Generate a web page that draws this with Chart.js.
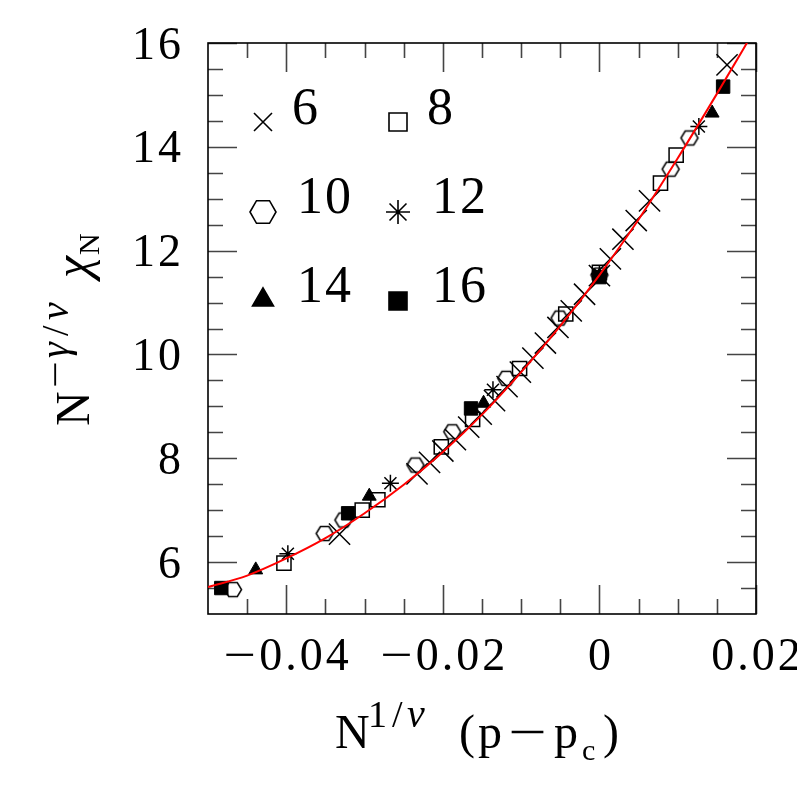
<!DOCTYPE html>
<html>
<head>
<meta charset="utf-8">
<script src="https://cdn.jsdelivr.net/npm/chart.js@4/dist/chart.umd.min.js"></script>
<style>
html,body{margin:0;padding:0;background:#fff;}
#wrap{width:797px;height:797px;}
</style>
</head>
<body>
<div id="wrap"><canvas id="c" width="797" height="797"></canvas></div>
<script>
// ---- data ----
const xs6  = [-0.0332, -0.0233, -0.0217, -0.0200, -0.0184, -0.0167, -0.0151, -0.0134, -0.0118, -0.0101, -0.0085, -0.0069, -0.0053, -0.0036, -0.0019, 0.0000, 0.0014, 0.0030, 0.0047, 0.0064, 0.0163];
const ys6  = [6.54, 7.70, 7.92, 8.14, 8.36, 8.60, 8.85, 9.11, 9.38, 9.66, 9.93, 10.22, 10.52, 10.84, 11.16, 11.52, 11.84, 12.22, 12.58, 12.96, 15.58];
const xs8  = [-0.0403, -0.0303, -0.0283, -0.0202, -0.0162, -0.0102, -0.0043, 0.0000, 0.0078, 0.0098];
const ys8  = [5.98, 7.00, 7.20, 8.22, 8.75, 9.73, 10.78, 11.58, 13.30, 13.84];
const xs10 = [-0.0468, -0.0351, -0.0327, -0.0235, -0.0188, -0.0119, -0.0051, 0.0000, 0.0091, 0.0115];
const ys10 = [5.47, 6.55, 6.81, 7.87, 8.51, 9.54, 10.70, 11.53, 13.57, 14.17];
const xs12 = [-0.0398, -0.0267, -0.0136, 0.0000, 0.0127];
const ys12 = [6.16, 7.52, 9.32, 11.55, 14.39];
const xs14 = [-0.0439, -0.0294, -0.0148, 0.0000, 0.0144];
const ys14 = [5.85, 7.27, 9.06, 11.51, 14.65];
const xs16 = [-0.0483, -0.0321, -0.0164, 0.0000, 0.0158];
const ys16 = [5.50, 6.94, 8.96, 11.49, 15.16];
const curveX = [-0.05, -0.045, -0.04, -0.035, -0.03, -0.025, -0.02, -0.015, -0.01, -0.005, 0.0, 0.005, 0.01, 0.015, 0.02];
const curveY = [5.52, 5.74, 6.07, 6.46, 6.94, 7.49, 8.12, 8.84, 9.66, 10.55, 11.53, 12.60, 13.78, 15.02, 16.30];
const seriesLabels = ['6', '8', '10', '12', '14', '16'];
const xMajorTicks = [-0.04, -0.02, 0, 0.02];
const xMinorTicks = [-0.045, -0.035, -0.03, -0.025, -0.015, -0.01, -0.005, 0.005, 0.01, 0.015];
const yMajorTicks = [6, 8, 10, 12, 14, 16];
const yMinorTicks = [5.5, 6.5, 7, 7.5, 8.5, 9, 9.5, 10.5, 11, 11.5, 12.5, 13, 13.5, 14.5, 15, 15.5];

const SERIF = '"Liberation Serif", "Times New Roman", serif';

function pts(xs, ys) { return xs.map((x, i) => ({x: x, y: ys[i]})); }

function hexCanvas(w, h, lw) {
  const c = document.createElement('canvas');
  c.width = Math.ceil(w + lw * 2 + 2); c.height = Math.ceil(h + lw * 2 + 2);
  const g = c.getContext('2d');
  const cx = c.width / 2, cy = c.height / 2;
  g.beginPath();
  g.moveTo(cx - w / 2, cy);
  g.lineTo(cx - w / 4, cy - h / 2);
  g.lineTo(cx + w / 4, cy - h / 2);
  g.lineTo(cx + w / 2, cy);
  g.lineTo(cx + w / 4, cy + h / 2);
  g.lineTo(cx - w / 4, cy + h / 2);
  g.closePath();
  g.lineWidth = lw; g.strokeStyle = '#000'; g.stroke();
  return c;
}
const hexData = hexCanvas(17, 14, 1.5);

function fmtTick(v) {
  if (v === 0) return '0';
  return (v < 0 ? '\u2212' : '') + String(Math.abs(v));
}

// draw text glyph by glyph; minus signs are stretched like the TeX minus
const MINUS_SX = 1.25;
function glyphW(ctx, ch) { return ctx.measureText(ch).width * (ch === '\u2212' ? MINUS_SX : 1); }
function spacedWidth(ctx, t, ls) {
  let w = 0; for (const ch of t) w += glyphW(ctx, ch) + ls; return w - ls;
}
function drawSpaced(ctx, t, x, y, ls) {
  for (const ch of t) {
    if (ch === '\u2212') {
      ctx.save(); ctx.translate(x, y); ctx.scale(MINUS_SX, 1); ctx.fillText(ch, 0, 0); ctx.restore();
    } else {
      ctx.fillText(ch, x, y);
    }
    x += glyphW(ctx, ch) + ls;
  }
  return x;
}

function drawMarker(ctx, kind, x, y, s) {
  ctx.save();
  ctx.lineWidth = 1.6; ctx.strokeStyle = '#000'; ctx.fillStyle = '#000';
  ctx.beginPath();
  if (kind === 'x') {
    const d = s / 2;
    ctx.moveTo(x - d, y - d); ctx.lineTo(x + d, y + d);
    ctx.moveTo(x + d, y - d); ctx.lineTo(x - d, y + d);
    ctx.stroke();
  } else if (kind === 'sq' || kind === 'fsq') {
    ctx.rect(x - s / 2, y - s / 2, s, s);
    if (kind === 'fsq') ctx.fill(); ctx.stroke();
  } else if (kind === 'hex') {
    const w = s, h = s * 0.87;
    ctx.moveTo(x - w / 2, y); ctx.lineTo(x - w / 4, y - h / 2); ctx.lineTo(x + w / 4, y - h / 2);
    ctx.lineTo(x + w / 2, y); ctx.lineTo(x + w / 4, y + h / 2); ctx.lineTo(x - w / 4, y + h / 2);
    ctx.closePath(); ctx.stroke();
  } else if (kind === 'star') {
    const r = s / 2;
    for (let k = 0; k < 4; k++) {
      const a = k * Math.PI / 4;
      ctx.moveTo(x - Math.sin(a) * r, y - Math.cos(a) * r);
      ctx.lineTo(x + Math.sin(a) * r, y + Math.cos(a) * r);
    }
    ctx.stroke();
  } else if (kind === 'tri') {
    const h = s * 0.866;
    ctx.moveTo(x, y - h * 2 / 3); ctx.lineTo(x + s / 2, y + h / 3); ctx.lineTo(x - s / 2, y + h / 3);
    ctx.closePath(); ctx.fill(); ctx.stroke();
  }
  ctx.restore();
}

const framePlugin = {
  id: 'frame',
  beforeDatasetsDraw(chart) {
    const ctx = chart.ctx, a = chart.chartArea;
    const xs = chart.scales.x, ys = chart.scales.y;
    ctx.save();
    ctx.strokeStyle = '#444'; ctx.lineWidth = 1.6;
    ctx.beginPath();
    const xt = (arr, len) => arr.forEach(v => {
      const p = Math.round(xs.getPixelForValue(v)) + 0.5;
      ctx.moveTo(p, a.bottom); ctx.lineTo(p, a.bottom - len);
      ctx.moveTo(p, a.top); ctx.lineTo(p, a.top + len);
    });
    const yt = (arr, len) => arr.forEach(v => {
      const p = Math.round(ys.getPixelForValue(v)) + 0.5;
      ctx.moveTo(a.left, p); ctx.lineTo(a.left + len, p);
      ctx.moveTo(a.right, p); ctx.lineTo(a.right - len, p);
    });
    xt(xMajorTicks, 29); xt(xMinorTicks, 15);
    yt(yMajorTicks, 29); yt(yMinorTicks, 15);
    ctx.stroke();
    ctx.strokeStyle = '#000'; ctx.lineWidth = 1.6;
    ctx.strokeRect(a.left, a.top, a.right - a.left, a.bottom - a.top);
    ctx.restore();
  },
  afterDraw(chart) {
    const ctx = chart.ctx;
    const xs = chart.scales.x, ys = chart.scales.y;
    ctx.save();
    ctx.fillStyle = '#000';
    ctx.textBaseline = 'alphabetic'; ctx.textAlign = 'left';
    // tick labels
    ctx.font = '46px ' + SERIF;
    const ls = 3;
    xMajorTicks.forEach(v => {
      const t = fmtTick(v);
      const w = spacedWidth(ctx, t, ls);
      drawSpaced(ctx, t, xs.getPixelForValue(v) - w / 2, 670, ls);
    });
    yMajorTicks.forEach(v => {
      const t = fmtTick(v);
      const w = spacedWidth(ctx, t, ls);
      drawSpaced(ctx, t, 181 - w, ys.getPixelForValue(v) + 15.5, ls);
    });
    // x title: N^{1/nu} (p-p_c)
    const XB = 748;
    ctx.font = '48px ' + SERIF;
    drawSpaced(ctx, 'N', 335, XB, 0);
    ctx.font = '38px ' + SERIF;
    drawSpaced(ctx, '1', 368, XB - 21, 0);
    drawSpaced(ctx, '/', 392, XB - 21, 0);
    ctx.font = 'italic 40px ' + SERIF;
    drawSpaced(ctx, '\u03bd', 407, XB - 21, 0);
    ctx.font = '48px ' + SERIF;
    drawSpaced(ctx, '(', 459, XB, 0);
    drawSpaced(ctx, 'p', 478, XB, 0);
    ctx.save(); ctx.translate(508, XB); ctx.scale(1.42, 1); ctx.fillText('\u2212', 0, 0); ctx.restore();
    drawSpaced(ctx, 'p', 554, XB, 0);
    ctx.font = '30px ' + SERIF;
    drawSpaced(ctx, 'c', 582, XB + 12, 0);
    ctx.font = '48px ' + SERIF;
    drawSpaced(ctx, ')', 603, XB, 0);
    // y title: N^{-gamma/nu} chi_N  (rotated)
    ctx.save();
    ctx.translate(89, 426);
    ctx.rotate(-Math.PI / 2);
    ctx.font = '48px ' + SERIF;
    drawSpaced(ctx, 'N', 0, 0, 0);
    ctx.font = '38px ' + SERIF;
    drawSpaced(ctx, '\u2212', 38, -21, 0);
    ctx.font = 'italic 40px ' + SERIF;
    drawSpaced(ctx, '\u03b3', 68, -21, 0);
    ctx.font = '38px ' + SERIF;
    drawSpaced(ctx, '/', 90, -21, 0);
    ctx.font = 'italic 40px ' + SERIF;
    drawSpaced(ctx, '\u03bd', 106, -21, 0);
    ctx.font = 'italic 50px ' + SERIF;
    const lx = drawSpaced(ctx, '\u03c7', 148, 0, 0);
    ctx.font = '30px ' + SERIF;
    drawSpaced(ctx, 'N', lx + 1, 10, 0);
    ctx.restore();
    // legend
    const leg = [
      {k: 'x',   mx: 263, my: 122, s: 18, tx: 292, ty: 124},
      {k: 'sq',  mx: 398, my: 122, s: 18, tx: 427, ty: 124},
      {k: 'hex', mx: 263, my: 212, s: 26, tx: 297, ty: 213},
      {k: 'star',mx: 398, my: 212, s: 24, tx: 432, ty: 213},
      {k: 'tri', mx: 263, my: 300, s: 21, tx: 297, ty: 302},
      {k: 'fsq', mx: 398, my: 301, s: 18, tx: 432, ty: 302}
    ];
    ctx.font = '52px ' + SERIF;
    leg.forEach((e, i) => {
      drawMarker(ctx, e.k, e.mx, e.my, e.s);
      ctx.fillStyle = '#000';
      drawSpaced(ctx, seriesLabels[i], e.tx, e.ty, 2);
    });
    ctx.restore();
  }
};

const black = '#000';
const clear = 'rgba(0,0,0,0)';

new Chart(document.getElementById('c'), {
  type: 'scatter',
  data: {
    datasets: [
      {label: 'fit', type: 'line', data: pts(curveX, curveY), borderColor: '#ff0000', borderWidth: 2,
       pointRadius: 0, fill: false, cubicInterpolationMode: 'monotone', order: 0},
      {label: seriesLabels[0], data: pts(xs6, ys6), pointStyle: 'crossRot', pointRadius: 15,
       borderColor: black, backgroundColor: clear, borderWidth: 1.5, order: 1},
      {label: seriesLabels[1], data: pts(xs8, ys8), pointStyle: 'rect', pointRadius: 10,
       borderColor: black, backgroundColor: clear, borderWidth: 1.5, order: 1},
      {label: seriesLabels[2], data: pts(xs10, ys10), pointStyle: hexData, pointRadius: 8,
       borderColor: black, backgroundColor: clear, borderWidth: 1.5, order: 1},
      {label: seriesLabels[3], data: pts(xs12, ys12), pointStyle: 'star', pointRadius: 8.5,
       borderColor: black, backgroundColor: clear, borderWidth: 1.5, order: 1},
      {label: seriesLabels[4], data: pts(xs14, ys14), pointStyle: 'triangle', pointRadius: 8,
       borderColor: black, backgroundColor: black, borderWidth: 1, order: 1},
      {label: seriesLabels[5], data: pts(xs16, ys16), pointStyle: 'rect', pointRadius: 9.5,
       borderColor: black, backgroundColor: black, borderWidth: 1, order: 1}
    ]
  },
  options: {
    responsive: false,
    animation: false,
    events: [],
    layout: {padding: {top: 43, right: 41, left: 0, bottom: 0}},
    plugins: {legend: {display: false}, tooltip: {enabled: false}, title: {display: false}},
    scales: {
      x: {
        type: 'linear', min: -0.05, max: 0.02,
        grid: {display: false, drawTicks: false}, border: {display: false},
        ticks: {display: false},
        title: {display: false},
        afterBuildTicks(s) { s.ticks = xMajorTicks.map(v => ({value: v})); },
        afterFit(s) { s.height = 183; }
      },
      y: {
        type: 'linear', min: 5, max: 16,
        grid: {display: false, drawTicks: false}, border: {display: false},
        ticks: {display: false},
        title: {display: false},
        afterBuildTicks(s) { s.ticks = yMajorTicks.map(v => ({value: v})); },
        afterFit(s) { s.width = 208; }
      }
    }
  },
  plugins: [framePlugin]
});
</script>
</body>
</html>
